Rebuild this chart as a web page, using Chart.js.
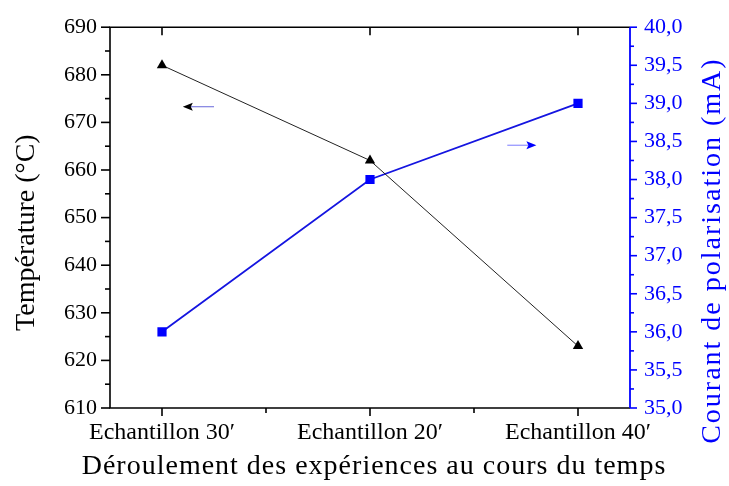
<!DOCTYPE html>
<html>
<head>
<meta charset="utf-8">
<script src="https://cdn.jsdelivr.net/npm/chart.js@4/dist/chart.umd.min.js"></script>
<style>
  html, body { margin: 0; padding: 0; background: #fff; }
</style>
</head>
<body>
<canvas id="myChart" width="729" height="486"></canvas>
<script>
// Catégories (axe x)
const echantillons = ["Echantillon 30\u2032", "Echantillon 20\u2032", "Echantillon 40\u2032"];
// Température (°C) - axe gauche
const temperature = [682, 662, 623];
// Courant de polarisation (mA) - axe droit
const courant = [36.0, 38.0, 39.0];
// Graduations
const ticksTemp = [610, 620, 630, 640, 650, 660, 670, 680, 690];
const ticksCourant = [35.0, 35.5, 36.0, 36.5, 37.0, 37.5, 38.0, 38.5, 39.0, 39.5, 40.0];
// Flèches (x départ, x arrivée, valeur y)
const flecheTemp = [1.25, 1.10, 673.3];
const flecheCourant = [2.66, 2.80, 38.45];

const serif = "'Liberation Serif', 'DejaVu Serif', serif";
const bleu = "#0000ff";

// milieux entre deux graduations (petites graduations)
const milieux = (arr) => arr.slice(1).map((v, i) => (v + arr[i]) / 2);

const trait = (ctx, x0, y0, x1, y1) => {
  ctx.beginPath();
  ctx.moveTo(x0, y0);
  ctx.lineTo(x1, y1);
  ctx.stroke();
};

const fleche = (ctx, xs, ys, f, couleurTrait, couleurTete) => {
  const x0 = xs.getPixelForValue(f[0]);
  const x1 = xs.getPixelForValue(f[1]);
  const y = ys.getPixelForValue(f[2]);
  const dir = x1 > x0 ? 1 : -1;
  ctx.strokeStyle = couleurTrait;
  ctx.lineWidth = 1.2;
  trait(ctx, x0, y, x1 - dir * 8, y);
  ctx.fillStyle = couleurTete;
  ctx.beginPath();
  ctx.moveTo(x1, y);
  ctx.lineTo(x1 - dir * 10, y - 4);
  ctx.lineTo(x1 - dir * 8, y);
  ctx.lineTo(x1 - dir * 10, y + 4);
  ctx.closePath();
  ctx.fill();
};

// Cadre, graduations, titres et flèches
const cadre = {
  id: "cadre",
  afterDraw(chart) {
    const { ctx, chartArea: a, scales } = chart;
    const sx = scales.x, sy = scales.y, sy1 = scales.y1;
    ctx.save();
    ctx.lineCap = "butt";

    // cadre noir
    ctx.strokeStyle = "#000";
    ctx.lineWidth = 1.6;
    ctx.beginPath();
    ctx.moveTo(a.right, a.top);
    ctx.lineTo(a.left, a.top);
    ctx.lineTo(a.left, a.bottom);
    ctx.lineTo(a.right, a.bottom);
    ctx.stroke();

    // axe gauche
    ticksTemp.forEach((v) => { const y = sy.getPixelForValue(v); trait(ctx, a.left - 9, y, a.left, y); });
    milieux(ticksTemp).forEach((v) => { const y = sy.getPixelForValue(v); trait(ctx, a.left - 5, y, a.left, y); });

    // axe x (bas et haut)
    echantillons.forEach((c, i) => {
      const x = sx.getPixelForValue(i + 1);
      trait(ctx, x, a.bottom, x, a.bottom + 8);
      trait(ctx, x, a.top, x, a.top + 8);
    });
    milieux(echantillons.map((c, i) => i + 1)).forEach((v) => {
      const x = sx.getPixelForValue(v);
      trait(ctx, x, a.bottom, x, a.bottom + 5);
    });

    // axe droit bleu
    ctx.strokeStyle = bleu;
    ctx.lineWidth = 1.8;
    trait(ctx, a.right, a.top, a.right, a.bottom);
    ctx.lineWidth = 1.6;
    ticksCourant.forEach((v) => { const y = sy1.getPixelForValue(v); trait(ctx, a.right, y, a.right + 7, y); });
    milieux(ticksCourant).forEach((v) => { const y = sy1.getPixelForValue(v); trait(ctx, a.right, y, a.right + 4, y); });

    // flèches
    fleche(ctx, sx, sy, flecheTemp, "#8080e0", "#000");
    fleche(ctx, sx, sy1, flecheCourant, "#9090ff", bleu);

    // titres des axes
    ctx.font = "28px " + serif;
    ctx.textAlign = "center";
    ctx.textBaseline = "middle";
    ctx.fillStyle = "#000";
    ctx.letterSpacing = "1px";
    ctx.fillText("Déroulement des expériences au cours du temps", (a.left + a.right) / 2 + 4, a.bottom + 59);

    ctx.letterSpacing = "0px";
    ctx.save();
    ctx.translate(a.left - 83, (a.top + a.bottom) / 2 + 15);
    ctx.rotate(-Math.PI / 2);
    ctx.fillText("Température (°C)", 0, 0);
    ctx.restore();

    ctx.save();
    ctx.fillStyle = bleu;
    ctx.letterSpacing = "2px";
    ctx.translate(a.right + 83, (a.top + a.bottom) / 2 + 33);
    ctx.rotate(-Math.PI / 2);
    ctx.fillText("Courant de polarisation (mA)", 0, 0);
    ctx.restore();

    ctx.restore();
  },
};

const ctx = document.getElementById("myChart").getContext("2d");
const chart = new Chart(ctx, {
  type: "line",
  data: {
    datasets: [
      {
        label: "Température",
        data: temperature.map((v, i) => ({ x: i + 1, y: v })),
        yAxisID: "y",
        borderColor: "#222",
        borderWidth: 1,
        pointStyle: "triangle",
        pointRadius: 6,
        pointBackgroundColor: "#000",
        pointBorderColor: "#000",
        pointBorderWidth: 0,
      },
      {
        label: "Courant",
        data: courant.map((v, i) => ({ x: i + 1, y: v })),
        yAxisID: "y1",
        borderColor: "#1515e0",
        borderWidth: 1.8,
        pointStyle: "rect",
        pointRadius: 6.5,
        pointBackgroundColor: bleu,
        pointBorderColor: bleu,
        pointBorderWidth: 0,
      },
    ],
  },
  options: {
    responsive: false,
    animation: false,
    layout: { padding: { top: 24, left: 0, right: 0, bottom: 0 } },
    plugins: { legend: { display: false }, tooltip: { enabled: false } },
    scales: {
      x: {
        type: "linear",
        min: 0.75,
        max: 3.25,
        afterBuildTicks: (s) => { s.ticks = echantillons.map((c, i) => ({ value: i + 1 })); },
        ticks: {
          callback: (v) => echantillons[v - 1],
          color: "#000",
          font: { family: serif, size: 24 },
          padding: 10,
          maxRotation: 0,
          autoSkip: false,
        },
        grid: { display: false, drawTicks: false },
        border: { display: false },
        afterFit: (s) => { s.height = 78; },
      },
      y: {
        position: "left",
        min: 610,
        max: 690,
        afterBuildTicks: (s) => { s.ticks = ticksTemp.map((v) => ({ value: v })); },
        ticks: { color: "#000", font: { family: serif, size: 22 }, padding: 13 },
        grid: { display: false, drawTicks: false },
        border: { display: false },
        afterFit: (s) => { s.width = 110; },
      },
      y1: {
        position: "right",
        min: 35,
        max: 40,
        afterBuildTicks: (s) => { s.ticks = ticksCourant.map((v) => ({ value: v })); },
        ticks: {
          callback: (v) => v.toFixed(1).replace(".", ","),
          color: bleu,
          font: { family: serif, size: 22 },
          padding: 14,
        },
        grid: { display: false, drawTicks: false },
        border: { display: false },
        afterFit: (s) => { s.width = 99; },
      },
    },
  },
  plugins: [cadre],
});
</script>
</body>
</html>
